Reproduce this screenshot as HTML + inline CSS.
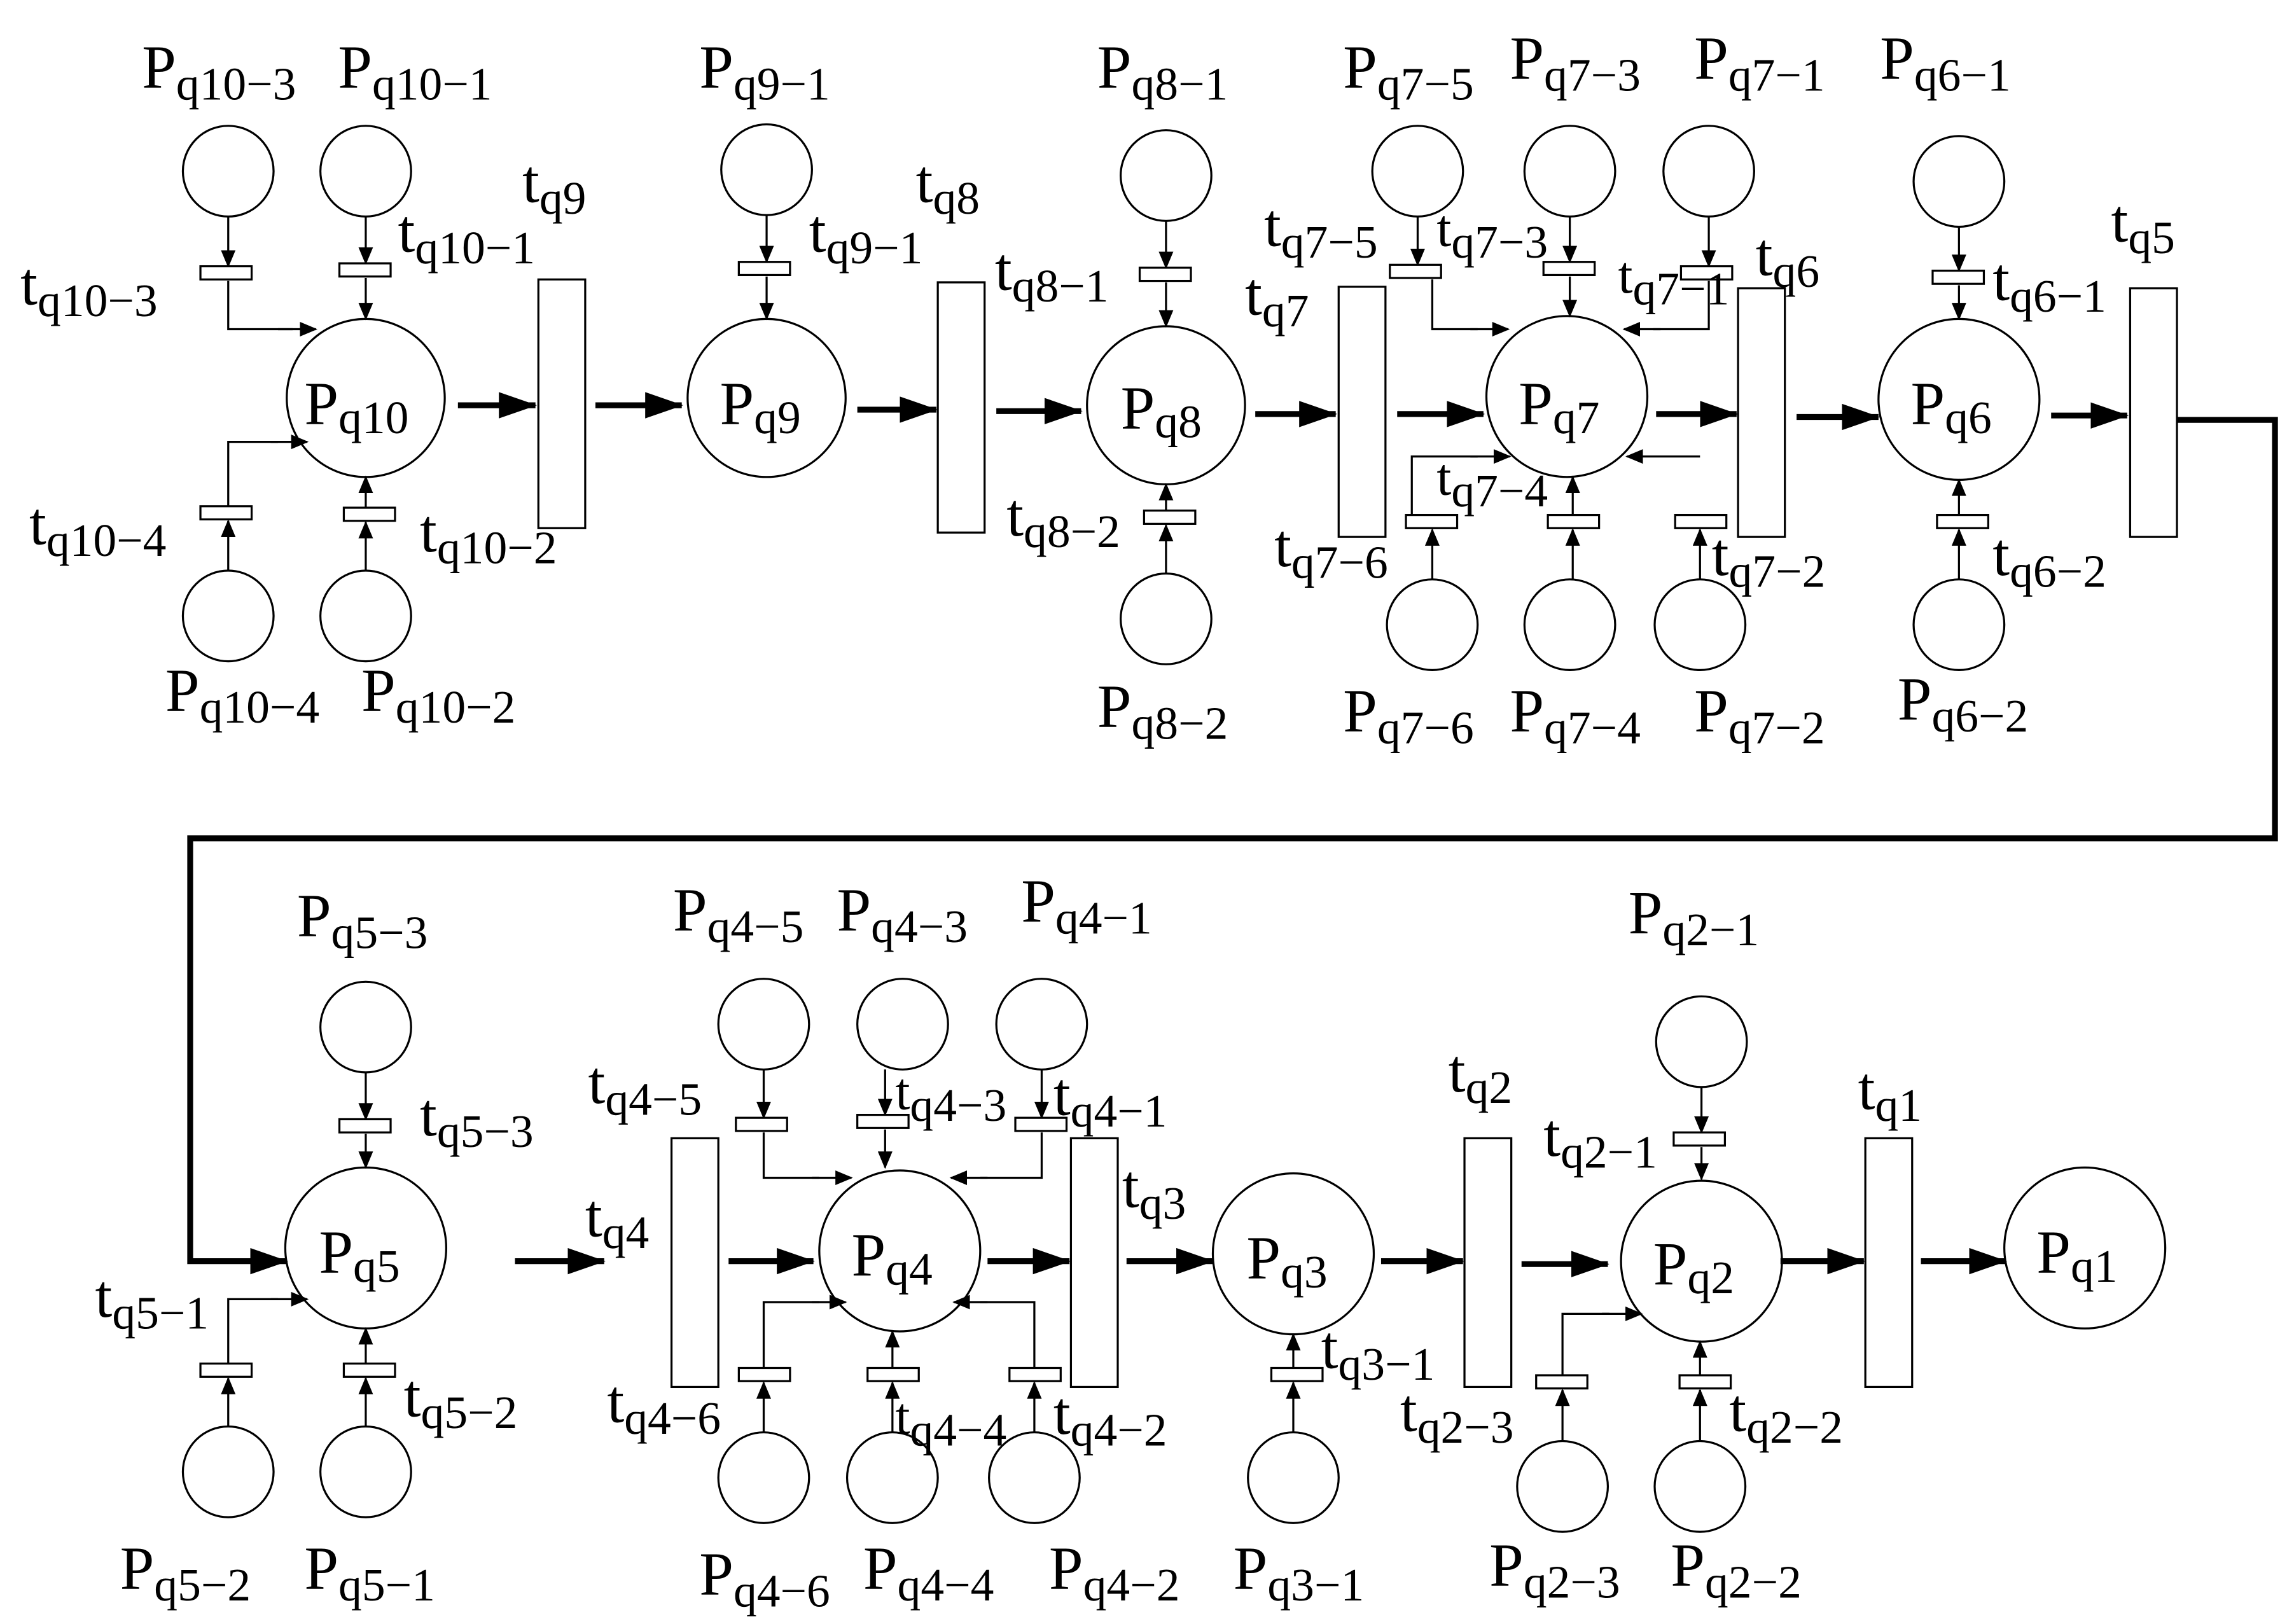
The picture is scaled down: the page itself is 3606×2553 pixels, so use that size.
<!DOCTYPE html>
<html><head><meta charset="utf-8"><style>
html,body{margin:0;padding:0;background:#fff}
svg{display:block}
text{font-family:"Liberation Serif",serif;fill:#000}
.P{font-size:42px}.s{font-size:32px}
.c{fill:#fff;stroke:#000;stroke-width:1.4}
.r{fill:#fff;stroke:#000;stroke-width:1.4}
.l{fill:none;stroke:#000;stroke-width:1.4;marker-end:url(#a)}
.n{fill:none;stroke:#000;stroke-width:1.4}
.T{fill:none;stroke:#000;stroke-width:4;marker-end:url(#b)}
</style></head><body>
<svg width="3606" height="2553" viewBox="0 0 1568 1110" preserveAspectRatio="none" xmlns="http://www.w3.org/2000/svg">
<defs>
<marker id="a" markerUnits="userSpaceOnUse" markerWidth="12" markerHeight="10" refX="11" refY="5" orient="auto"><path d="M0,0L12,5L0,10z" fill="#000"/></marker>
<marker id="b" markerUnits="userSpaceOnUse" markerWidth="26" markerHeight="18" refX="25" refY="9" orient="auto"><path d="M0,0L26,9L0,18z" fill="#000"/></marker>
</defs>
<circle class="c" cx="250" cy="272" r="54"/>
<circle class="c" cx="524" cy="272" r="54"/>
<circle class="c" cx="797" cy="277" r="54"/>
<circle class="c" cx="1071" cy="271" r="55"/>
<circle class="c" cx="1339" cy="273" r="55"/>
<circle class="c" cx="250" cy="853" r="55"/>
<circle class="c" cx="615" cy="855" r="55"/>
<circle class="c" cx="884" cy="857" r="55"/>
<circle class="c" cx="1163" cy="862" r="55"/>
<circle class="c" cx="1425" cy="853" r="55"/>
<circle class="c" cx="156" cy="117" r="31"/><circle class="c" cx="250" cy="117" r="31"/>
<circle class="c" cx="156" cy="421" r="31"/><circle class="c" cx="250" cy="421" r="31"/>
<circle class="c" cx="524" cy="116" r="31"/>
<circle class="c" cx="797" cy="120" r="31"/><circle class="c" cx="797" cy="423" r="31"/>
<circle class="c" cx="969" cy="117" r="31"/><circle class="c" cx="1073" cy="117" r="31"/><circle class="c" cx="1168" cy="117" r="31"/>
<circle class="c" cx="979" cy="427" r="31"/><circle class="c" cx="1073" cy="427" r="31"/><circle class="c" cx="1162" cy="427" r="31"/>
<circle class="c" cx="1339" cy="124" r="31"/><circle class="c" cx="1339" cy="427" r="31"/>
<circle class="c" cx="250" cy="702" r="31"/><circle class="c" cx="156" cy="1006" r="31"/><circle class="c" cx="250" cy="1006" r="31"/>
<circle class="c" cx="522" cy="700" r="31"/><circle class="c" cx="617" cy="700" r="31"/><circle class="c" cx="712" cy="700" r="31"/>
<circle class="c" cx="522" cy="1010" r="31"/><circle class="c" cx="610" cy="1010" r="31"/><circle class="c" cx="707" cy="1010" r="31"/>
<circle class="c" cx="884" cy="1010" r="31"/>
<circle class="c" cx="1163" cy="712" r="31"/><circle class="c" cx="1068" cy="1016" r="31"/><circle class="c" cx="1162" cy="1016" r="31"/>
<rect class="r" x="368" y="191" width="32" height="170"/>
<rect class="r" x="641" y="193" width="32" height="171"/>
<rect class="r" x="915" y="196" width="32" height="171"/>
<rect class="r" x="1188" y="197" width="32" height="170"/>
<rect class="r" x="1456" y="197" width="32" height="170"/>
<rect class="r" x="459" y="778" width="32" height="170"/>
<rect class="r" x="732" y="778" width="32" height="170"/>
<rect class="r" x="1001" y="778" width="32" height="170"/>
<rect class="r" x="1275" y="778" width="32" height="170"/>
<path class="l" d="M156,148V182"/><path class="n" d="M156,192V225H200"/><path class="l" d="M190,225H216"/>
<path class="l" d="M250,148V180"/><path class="l" d="M250,190V218"/>
<path class="l" d="M156,390V356"/><path class="n" d="M156,346V302H190"/><path class="l" d="M185,302H210"/>
<path class="l" d="M250,390V357"/><path class="l" d="M250,347V326"/>
<path class="l" d="M524,147V179"/><path class="l" d="M524,189V218"/>
<path class="l" d="M797,151V183"/><path class="l" d="M797,193V223"/>
<path class="l" d="M797,392V359"/><path class="l" d="M797,349V331"/>
<path class="l" d="M969,148V181"/><path class="n" d="M979,191V225H1010"/><path class="l" d="M1005,225H1031"/>
<path class="l" d="M1073,148V179"/><path class="l" d="M1073,189V216"/>
<path class="l" d="M1168,148V182"/><path class="n" d="M1168,192V225H1130"/><path class="l" d="M1135,225H1110"/>
<path class="l" d="M979,396V362"/><path class="n" d="M965,352V312H1010"/><path class="l" d="M1005,312H1032"/>
<path class="l" d="M1075,396V362"/><path class="l" d="M1075,352V326"/>
<path class="l" d="M1162,396V362"/><path class="l" d="M1162,312H1112"/>
<path class="l" d="M1339,155V185"/><path class="l" d="M1339,195V218"/>
<path class="l" d="M1339,396V362"/><path class="l" d="M1339,352V328"/>
<path class="l" d="M250,733V765"/><path class="l" d="M250,775V798"/>
<path class="l" d="M156,975V942"/><path class="n" d="M156,932V888H190"/><path class="l" d="M185,888H210"/>
<path class="l" d="M250,975V942"/><path class="l" d="M250,932V908"/>
<path class="l" d="M522,731V764"/><path class="n" d="M522,774V805H560"/><path class="l" d="M555,805H582"/>
<path class="l" d="M605,731V762"/><path class="l" d="M605,772V798"/>
<path class="l" d="M712,731V764"/><path class="n" d="M712,774V805H670"/><path class="l" d="M675,805H650"/>
<path class="l" d="M522,979V945"/><path class="n" d="M522,935V890H560"/><path class="l" d="M555,890H578"/>
<path class="l" d="M610,979V945"/><path class="l" d="M610,935V910"/>
<path class="l" d="M707,979V945"/><path class="n" d="M707,935V890H670"/><path class="l" d="M675,890H652"/>
<path class="l" d="M884,979V945"/><path class="l" d="M884,935V912"/>
<path class="l" d="M1163,743V774"/><path class="l" d="M1163,784V806"/>
<path class="l" d="M1068,985V950"/><path class="n" d="M1068,940V898H1100"/><path class="l" d="M1095,898H1122"/>
<path class="l" d="M1162,985V950"/><path class="l" d="M1162,940V917"/>
<rect class="r" x="137" y="182" width="35" height="9"/>
<rect class="r" x="232" y="180" width="35" height="9"/>
<rect class="r" x="137" y="346" width="35" height="9"/>
<rect class="r" x="235" y="347" width="35" height="9"/>
<rect class="r" x="505" y="179" width="35" height="9"/>
<rect class="r" x="779" y="183" width="35" height="9"/>
<rect class="r" x="782" y="349" width="35" height="9"/>
<rect class="r" x="950" y="181" width="35" height="9"/>
<rect class="r" x="1055" y="179" width="35" height="9"/>
<rect class="r" x="1149" y="182" width="35" height="9"/>
<rect class="r" x="961" y="352" width="35" height="9"/>
<rect class="r" x="1058" y="352" width="35" height="9"/>
<rect class="r" x="1145" y="352" width="35" height="9"/>
<rect class="r" x="1321" y="185" width="35" height="9"/>
<rect class="r" x="1324" y="352" width="35" height="9"/>
<rect class="r" x="232" y="765" width="35" height="9"/>
<rect class="r" x="137" y="932" width="35" height="9"/>
<rect class="r" x="235" y="932" width="35" height="9"/>
<rect class="r" x="503" y="764" width="35" height="9"/>
<rect class="r" x="586" y="762" width="35" height="9"/>
<rect class="r" x="694" y="764" width="35" height="9"/>
<rect class="r" x="505" y="935" width="35" height="9"/>
<rect class="r" x="593" y="935" width="35" height="9"/>
<rect class="r" x="690" y="935" width="35" height="9"/>
<rect class="r" x="869" y="935" width="35" height="9"/>
<rect class="r" x="1144" y="774" width="35" height="9"/>
<rect class="r" x="1050" y="940" width="35" height="9"/>
<rect class="r" x="1148" y="940" width="35" height="9"/>
<path class="T" d="M313,277H366"/><path class="T" d="M407,277H466"/>
<path class="T" d="M586,280H640"/><path class="T" d="M681,281H739"/>
<path class="T" d="M858,283H913"/><path class="T" d="M955,283H1014"/>
<path class="T" d="M1132,283H1187"/><path class="T" d="M1228,285H1284"/>
<path class="T" d="M1402,284H1454"/>
<path class="T" d="M1488,287H1555V573H130V862H196"/>
<path class="T" d="M352,862H413"/><path class="T" d="M498,862H556"/>
<path class="T" d="M675,862H731"/><path class="T" d="M770,862H829"/>
<path class="T" d="M944,862H1000"/><path class="T" d="M1040,864H1099"/>
<path class="T" d="M1217,862H1274"/><path class="T" d="M1313,862H1371"/>
<g class="P">
<text x="208" y="290">P<tspan class="s" dy="6">q10</tspan></text>
<text x="492" y="290">P<tspan class="s" dy="6">q9</tspan></text>
<text x="766" y="293">P<tspan class="s" dy="6">q8</tspan></text>
<text x="1038" y="290">P<tspan class="s" dy="6">q7</tspan></text>
<text x="1306" y="290">P<tspan class="s" dy="6">q6</tspan></text>
<text x="218" y="870">P<tspan class="s" dy="6">q5</tspan></text>
<text x="582" y="872">P<tspan class="s" dy="6">q4</tspan></text>
<text x="852" y="874">P<tspan class="s" dy="6">q3</tspan></text>
<text x="1130" y="878">P<tspan class="s" dy="6">q2</tspan></text>
<text x="1392" y="870">P<tspan class="s" dy="6">q1</tspan></text>
<text x="97" y="60">P<tspan class="s" dy="8">q10−3</tspan></text>
<text x="231" y="60">P<tspan class="s" dy="8">q10−1</tspan></text>
<text x="478" y="60">P<tspan class="s" dy="8">q9−1</tspan></text>
<text x="750" y="60">P<tspan class="s" dy="8">q8−1</tspan></text>
<text x="918" y="60">P<tspan class="s" dy="8">q7−5</tspan></text>
<text x="1032" y="54">P<tspan class="s" dy="8">q7−3</tspan></text>
<text x="1158" y="54">P<tspan class="s" dy="8">q7−1</tspan></text>
<text x="1285" y="54">P<tspan class="s" dy="8">q6−1</tspan></text>
<text x="113" y="486">P<tspan class="s" dy="8">q10−4</tspan></text>
<text x="247" y="486">P<tspan class="s" dy="8">q10−2</tspan></text>
<text x="750" y="497">P<tspan class="s" dy="8">q8−2</tspan></text>
<text x="918" y="500">P<tspan class="s" dy="8">q7−6</tspan></text>
<text x="1032" y="500">P<tspan class="s" dy="8">q7−4</tspan></text>
<text x="1158" y="500">P<tspan class="s" dy="8">q7−2</tspan></text>
<text x="1297" y="492">P<tspan class="s" dy="8">q6−2</tspan></text>
<text x="203" y="640">P<tspan class="s" dy="8">q5−3</tspan></text>
<text x="460" y="636">P<tspan class="s" dy="8">q4−5</tspan></text>
<text x="572" y="636">P<tspan class="s" dy="8">q4−3</tspan></text>
<text x="698" y="630">P<tspan class="s" dy="8">q4−1</tspan></text>
<text x="1113" y="638">P<tspan class="s" dy="8">q2−1</tspan></text>
<text x="82" y="1086">P<tspan class="s" dy="8">q5−2</tspan></text>
<text x="208" y="1086">P<tspan class="s" dy="8">q5−1</tspan></text>
<text x="478" y="1090">P<tspan class="s" dy="8">q4−6</tspan></text>
<text x="590" y="1086">P<tspan class="s" dy="8">q4−4</tspan></text>
<text x="717" y="1086">P<tspan class="s" dy="8">q4−2</tspan></text>
<text x="843" y="1086">P<tspan class="s" dy="8">q3−1</tspan></text>
<text x="1018" y="1084">P<tspan class="s" dy="8">q2−3</tspan></text>
<text x="1142" y="1084">P<tspan class="s" dy="8">q2−2</tspan></text>
<text x="357" y="138">t<tspan class="s" dy="8">q9</tspan></text>
<text x="626" y="138">t<tspan class="s" dy="8">q8</tspan></text>
<text x="272" y="172">t<tspan class="s" dy="8">q10−1</tspan></text>
<text x="14" y="208">t<tspan class="s" dy="8">q10−3</tspan></text>
<text x="553" y="172">t<tspan class="s" dy="8">q9−1</tspan></text>
<text x="680" y="198">t<tspan class="s" dy="8">q8−1</tspan></text>
<text x="864" y="168">t<tspan class="s" dy="8">q7−5</tspan></text>
<text x="982" y="168" style="font-size:36px">t<tspan class="s" dy="8">q7−3</tspan></text>
<text x="1106" y="200" style="font-size:36px">t<tspan class="s" dy="8">q7−1</tspan></text>
<text x="1200" y="188">t<tspan class="s" dy="8">q6</tspan></text>
<text x="851" y="215">t<tspan class="s" dy="8">q7</tspan></text>
<text x="1362" y="205">t<tspan class="s" dy="8">q6−1</tspan></text>
<text x="1443" y="165">t<tspan class="s" dy="8">q5</tspan></text>
<text x="20" y="372">t<tspan class="s" dy="8">q10−4</tspan></text>
<text x="287" y="377">t<tspan class="s" dy="8">q10−2</tspan></text>
<text x="688" y="366">t<tspan class="s" dy="8">q8−2</tspan></text>
<text x="871" y="387">t<tspan class="s" dy="8">q7−6</tspan></text>
<text x="982" y="338" style="font-size:36px">t<tspan class="s" dy="8">q7−4</tspan></text>
<text x="1170" y="393">t<tspan class="s" dy="8">q7−2</tspan></text>
<text x="1362" y="393">t<tspan class="s" dy="8">q6−2</tspan></text>
<text x="402" y="754">t<tspan class="s" dy="8">q4−5</tspan></text>
<text x="612" y="758" style="font-size:36px">t<tspan class="s" dy="8">q4−3</tspan></text>
<text x="720" y="762">t<tspan class="s" dy="8">q4−1</tspan></text>
<text x="287" y="776">t<tspan class="s" dy="8">q5−3</tspan></text>
<text x="400" y="845">t<tspan class="s" dy="8">q4</tspan></text>
<text x="767" y="825">t<tspan class="s" dy="8">q3</tspan></text>
<text x="990" y="746">t<tspan class="s" dy="8">q2</tspan></text>
<text x="1055" y="790">t<tspan class="s" dy="8">q2−1</tspan></text>
<text x="1270" y="758">t<tspan class="s" dy="8">q1</tspan></text>
<text x="65" y="900">t<tspan class="s" dy="8">q5−1</tspan></text>
<text x="276" y="968">t<tspan class="s" dy="8">q5−2</tspan></text>
<text x="415" y="972">t<tspan class="s" dy="8">q4−6</tspan></text>
<text x="612" y="980" style="font-size:36px">t<tspan class="s" dy="8">q4−4</tspan></text>
<text x="720" y="980">t<tspan class="s" dy="8">q4−2</tspan></text>
<text x="903" y="935">t<tspan class="s" dy="8">q3−1</tspan></text>
<text x="957" y="978">t<tspan class="s" dy="8">q2−3</tspan></text>
<text x="1182" y="978">t<tspan class="s" dy="8">q2−2</tspan></text>
</g>
</svg>
</body></html>
